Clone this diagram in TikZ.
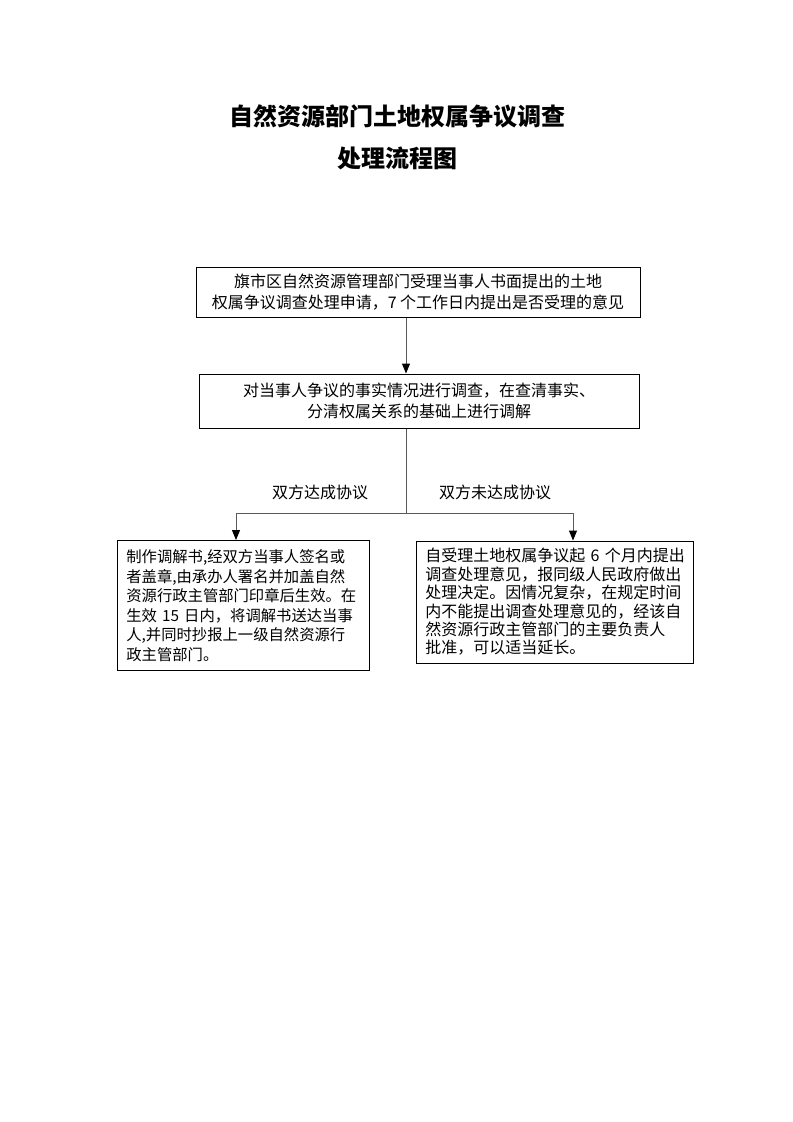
\documentclass[tikz,border=0pt]{standalone}
\usepackage{fontspec}
\setmainfont{Noto Sans CJK SC}
\usetikzlibrary{arrows.meta}
\begin{document}
\begin{tikzpicture}[x=0.75pt,y=-0.75pt,
  box/.style={draw=black,line width=0.75pt,inner sep=0pt},
  conn/.style={draw=black!65,line width=0.75pt},
  arr/.style={conn,-{Triangle[length=7.5pt,width=6pt,color=black]}},
  titletext/.style={font=\fontsize{18pt}{22pt}\selectfont\bfseries,inner sep=0pt},
  lbl/.style={font=\fontsize{12pt}{14pt}\selectfont,inner sep=0pt}]
\useasboundingbox[fill=white] (0,0) rectangle (793,1122);
% title
\node[titletext] (t1) at (397.5,116) {自然资源部门土地权属争议调查};
\node[titletext] (t2) at (397.5,158) {处理流程图};
% boxes
\node[box,minimum width=333pt,minimum height=37.5pt,align=center,
      font=\fontsize{12pt}{15.75pt}\selectfont] (b1) at (418,292)
  {旗市区自然资源管理部门受理当事人书面提出的土地\\权属争议调查处理申请，7~个工作日内提出是否受理的意见};
\node[box,minimum width=330pt,minimum height=40.5pt,align=center,
      font=\fontsize{12pt}{15.75pt}\selectfont] (b2) at (419,401)
  {对当事人争议的事实情况进行调查，在查清事实、\\分清权属关系的基础上进行调解};
\node[box,minimum height=97.5pt,inner xsep=7pt,text width=175pt,align=left,
      font=\fontsize{11.5pt}{14.6pt}\selectfont] (b3) at (243,605.5)
  {制作调解书,经双方当事人签名或\\者盖章,由承办人署名并加盖自然\\资源行政主管部门印章后生效。在\\生效~15~日内，将调解书送达当事\\人,并同时抄报上一级自然资源行\\政主管部门。};
\node[box,minimum height=91.5pt,inner xsep=7pt,text width=193.75pt,align=left,
      font=\fontsize{12pt}{13.8pt}\selectfont] (b4) at (554.5,602)
  {自受理土地权属争议起~6~个月内提出\\调查处理意见，报同级人民政府做出\\处理决定。因情况复杂，在规定时间\\内不能提出调查处理意见的，经该自\\然资源行政主管部门的主要负责人\\批准，可以适当延长。};
% labels
\node[lbl] (l1) at (320,492) {双方达成协议};
\node[lbl] (l2) at (495,492) {双方未达成协议};
% connectors
\coordinate (ax) at (406,0);
\coordinate (jn) at (406,513);
\coordinate (jl) at (236,513);
\coordinate (jr) at (573,513);
\draw[arr] (b1.south -| ax) -- (b2.north -| ax);
\draw[conn] (b2.south -| ax) -- (jn);
\draw[conn] (jl) -- (jr);
\draw[arr] (jl) -- (b3.north -| jl);
\draw[arr] (jr) -- (b4.north -| jr);
\end{tikzpicture}
\end{document}
